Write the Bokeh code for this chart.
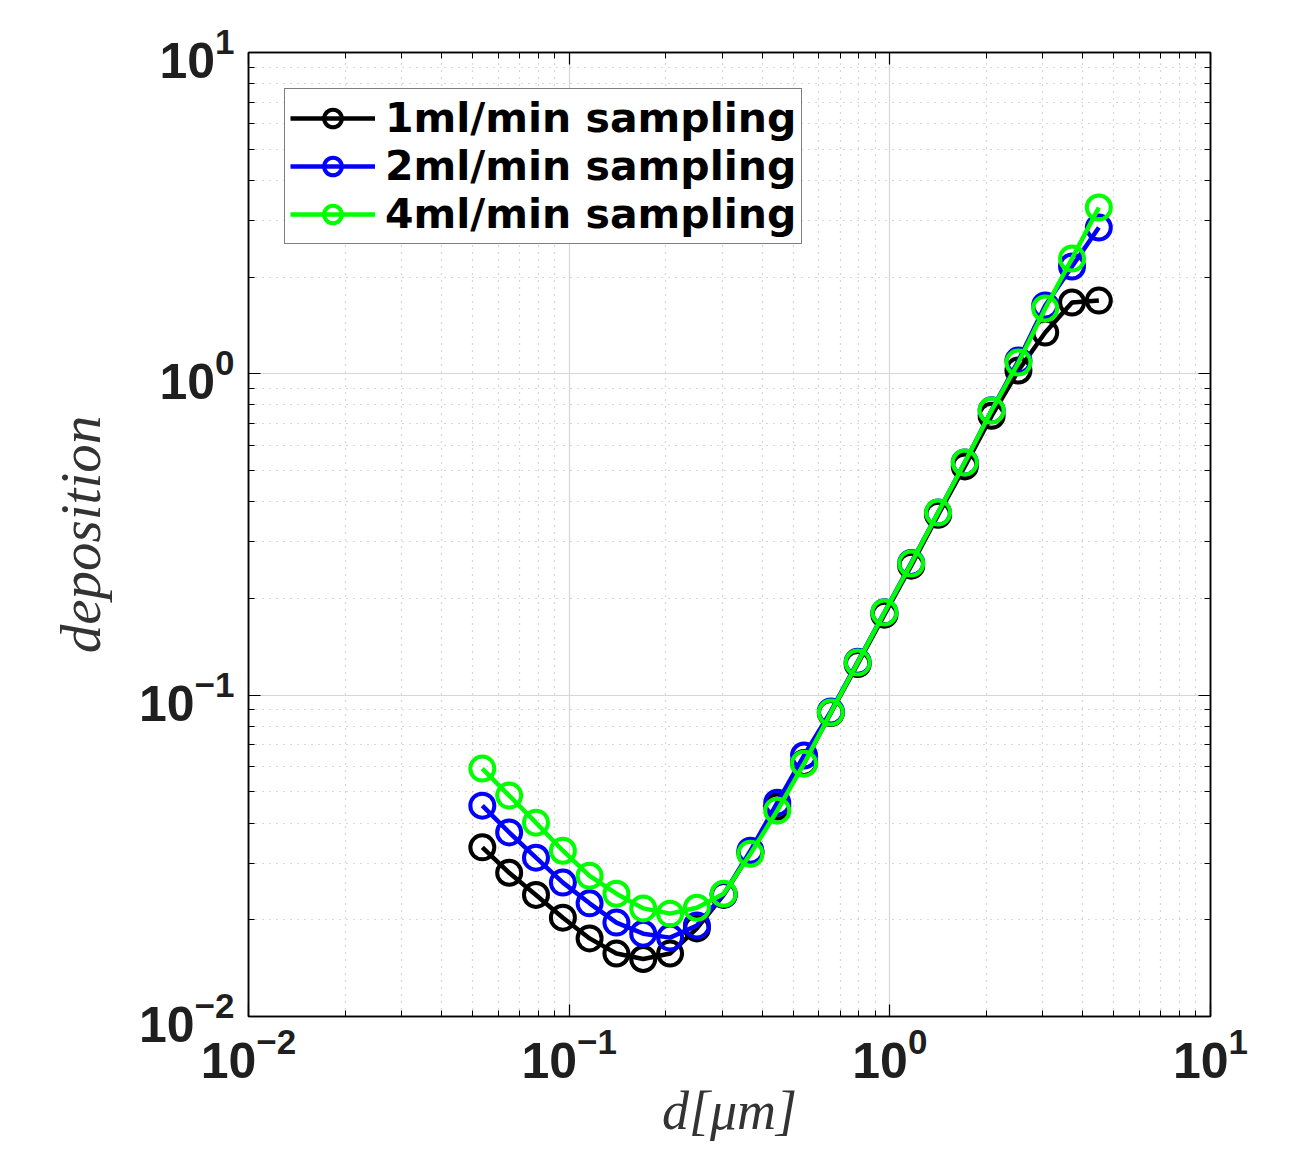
from bokeh.plotting import figure
from bokeh.models import Range1d, LogAxis, FixedTicker, Legend
from bokeh.embed import file_html
from bokeh.resources import INLINE

# ---- data ----
diam = [0.0536, 0.0650, 0.0788, 0.0956, 0.1158, 0.1404, 0.1702, 0.2064,
        0.2502, 0.3033, 0.3676, 0.4456, 0.5401, 0.6546, 0.7937, 0.9619,
        1.166, 1.414, 1.713, 2.077, 2.518, 3.052, 3.700, 4.485]

dep_1ml = [0.0336, 0.0280, 0.0239, 0.0203, 0.0175, 0.0157, 0.0151, 0.0157,
           0.0188, 0.0239, 0.0323, 0.0450, 0.0615, 0.0880, 0.1250, 0.1780,
           0.2530, 0.3640, 0.5150, 0.7400, 1.024, 1.344, 1.667, 1.690]

dep_2ml = [0.0453, 0.0374, 0.0312, 0.0261, 0.0225, 0.0196, 0.0181, 0.0176,
           0.0192, 0.0240, 0.0328, 0.0463, 0.0649, 0.0890, 0.1270, 0.1810,
           0.2580, 0.3700, 0.5300, 0.7700, 1.100, 1.632, 2.158, 2.853]

dep_4ml = [0.0591, 0.0487, 0.0401, 0.0328, 0.0274, 0.0241, 0.0217, 0.0209,
           0.0218, 0.0241, 0.0321, 0.0437, 0.0612, 0.0883, 0.1263, 0.1808,
           0.2568, 0.3700, 0.5295, 0.7690, 1.084, 1.597, 2.285, 3.293]

series_labels = ["1ml/min sampling", "2ml/min sampling", "4ml/min sampling"]
series_colors = ["#000000", "#0000ff", "#00ff00"]
decades = [0.01, 0.1, 1.0, 10.0]

minor = [m * d for d in decades[:-1] for m in range(2, 10)]

W, H = 1284, 1145
p = figure(width=W, height=H, x_axis_type="log", y_axis_type="log",
           x_range=Range1d(0.01, 10), y_range=Range1d(0.01, 10),
           output_backend="svg", toolbar_location=None,
           min_border_left=248, min_border_top=52,
           min_border_right=W - 248 - 962, min_border_bottom=H - 52 - 964,
           background_fill_color="white", border_fill_color="white")

p.outline_line_color = "black"
p.outline_line_width = 1.5

# grids
for g in (p.xgrid, p.ygrid):
    g.ticker = FixedTicker(ticks=decades, minor_ticks=minor)
    g.grid_line_color = "#d6d6d6"
    g.grid_line_width = 1.2
    g.minor_grid_line_color = "#b0b0b0"
    g.minor_grid_line_dash = "1 6"
    g.minor_grid_line_width = 1.2

# axes
def style_axis(ax, labels=True):
    ax.ticker = FixedTicker(ticks=decades, minor_ticks=minor)
    ax.axis_line_color = "black"
    ax.axis_line_width = 1.5
    ax.major_tick_in = 12
    ax.major_tick_out = 0
    ax.minor_tick_in = 6
    ax.minor_tick_out = 0
    ax.major_tick_line_color = "black"
    ax.minor_tick_line_color = "black"
    ax.major_tick_line_width = 1.2
    ax.minor_tick_line_width = 1.0
    if labels:
        ax.major_label_text_font = "Liberation Sans"
        ax.major_label_text_font_style = "bold"
        ax.major_label_text_font_size = "50px"
        ax.major_label_text_color = "#1f1f1f"
    else:
        ax.major_label_text_font_size = "0px"
        ax.major_label_text_color = None

for ax in p.xaxis + p.yaxis:
    style_axis(ax)

p.xaxis.major_label_standoff = 10
p.yaxis.major_label_standoff = 14

p.xaxis.axis_label = "d[μm]"
p.yaxis.axis_label = "deposition"
for ax in p.xaxis + p.yaxis:
    ax.axis_label_text_font = "Liberation Serif"
    ax.axis_label_text_font_style = "italic"
    ax.axis_label_text_color = "#333333"
p.xaxis.axis_label_text_font_size = "54px"
p.yaxis.axis_label_text_font_size = "57px"
p.xaxis.axis_label_standoff = 0
p.yaxis.axis_label_standoff = 24

top_ax = LogAxis()
style_axis(top_ax, labels=False)
right_ax = LogAxis()
style_axis(right_ax, labels=False)
p.add_layout(top_ax, "above")
p.add_layout(right_ax, "right")

# series
legend_items = []
for ys, lab, col in zip([dep_1ml, dep_2ml, dep_4ml], series_labels, series_colors):
    ln = p.line(diam, ys, line_color=col, line_width=4.5)
    sc = p.scatter(diam, ys, marker="circle", size=24, fill_color=None,
                   line_color=col, line_width=4)
    legend_items.append((lab, [ln, sc]))

legend = Legend(items=legend_items, location="top_left")
legend.margin = 36
legend.padding = 5
legend.spacing = 0
legend.glyph_width = 85
legend.glyph_height = 44
legend.label_height = 44
legend.label_standoff = 10
legend.label_text_font = "DejaVu Sans"
legend.label_text_font_style = "bold"
legend.label_text_font_size = "41px"
legend.label_text_color = "black"
legend.border_line_color = "black"
legend.border_line_width = 1.5
legend.background_fill_color = "white"
legend.background_fill_alpha = 1.0
p.add_layout(legend)

open("out.html", "w").write(file_html(p, INLINE))
